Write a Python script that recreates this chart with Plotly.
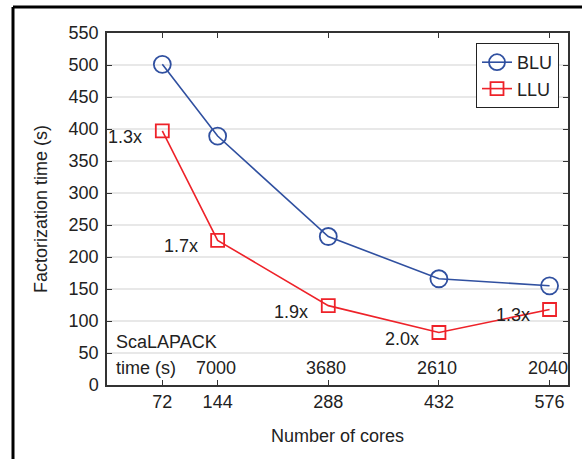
import plotly.graph_objects as go

cores = [72, 144, 288, 432, 576]
blu = [501, 389, 232, 166, 155]
llu = [397, 226, 124, 82, 118]
speedup = ["1.3x", "1.7x", "1.9x", "2.0x", "1.3x"]
scalapack = ["7000", "3680", "2610", "2040"]
yticks = list(range(0, 551, 50))

W, H = 582, 459
L, R, T, B = 107, 14, 33, 74
pw, ph = W - L - R, H - T - B

def px(x):
    return (x - L) / pw

def py(y):
    return (H - B - y) / ph

BLUE = "#3050a0"
RED = "#ee2229"
FONT = "Liberation Sans, Arial, Helvetica, sans-serif"
TXT = "#222222"
FS = 18

fig = go.Figure()
fig.add_trace(go.Scatter(x=cores, y=blu, name="BLU", mode="lines+markers",
                         line=dict(color=BLUE, width=1.6),
                         marker=dict(symbol="circle-open", size=17, color=BLUE, line=dict(width=1.8))))
fig.add_trace(go.Scatter(x=cores, y=llu, name="LLU", mode="lines+markers",
                         line=dict(color=RED, width=1.6),
                         marker=dict(symbol="square-open", size=13, color=RED, line=dict(width=1.8))))

# speedup labels, right-aligned to the left of each LLU marker
for c, v, s in zip(cores, llu, speedup):
    fig.add_annotation(x=c, y=v, text=s, showarrow=False, xshift=-18, yshift=-6,
                       xanchor="right", yanchor="middle",
                       font=dict(size=FS, color=TXT, family=FONT))

fig.add_annotation(xref="paper", yref="paper", x=px(114), y=py(342), text="ScaLAPACK",
                   xanchor="left", yanchor="middle", showarrow=False,
                   font=dict(size=FS, color=TXT, family=FONT))
fig.add_annotation(xref="paper", yref="paper", x=px(114), y=py(368), text="time (s)",
                   xanchor="left", yanchor="middle", showarrow=False,
                   font=dict(size=FS, color=TXT, family=FONT))
for c, s in zip(cores[1:], scalapack):
    fig.add_annotation(x=c, y=py(368), yref="paper", text=s, showarrow=False, xshift=-2,
                       xanchor="center", yanchor="middle",
                       font=dict(size=FS, color=TXT, family=FONT))

# outer frame (top and left lines)
fig.add_shape(type="line", xref="paper", yref="paper", x0=px(13), x1=px(W + 5), y0=py(7), y1=py(7),
              line=dict(color="black", width=3))
fig.add_shape(type="line", xref="paper", yref="paper", x0=px(13), x1=px(13), y0=py(7), y1=py(H + 5),
              line=dict(color="black", width=3))

fig.update_layout(
    width=W, height=H,
    margin=dict(l=L, r=R, t=T, b=B),
    paper_bgcolor="white", plot_bgcolor="white",
    font=dict(family=FONT, size=FS, color=TXT),
    showlegend=True,
    legend=dict(x=px(476), y=py(43), xanchor="left", yanchor="top",
                bordercolor="#222222", borderwidth=1, bgcolor="white",
                font=dict(size=FS, color=TXT), itemwidth=30, tracegroupgap=0),
)
fig.update_xaxes(range=[0, 600], tickvals=cores, ticktext=[str(c) for c in cores],
                 ticks="inside", ticklen=5, tickcolor="#333", showline=True, linecolor="#333",
                 linewidth=1.5, mirror="ticks", showgrid=False, zeroline=False,
                 title=dict(text="Number of cores", standoff=18, font=dict(size=FS)),
                 tickfont=dict(size=FS))
fig.update_yaxes(range=[0, 550], tickvals=yticks, ticks="inside", ticklen=5, tickcolor="#333",
                 showline=True, linecolor="#333", linewidth=1.5, mirror="ticks",
                 showgrid=True, gridcolor="#e8e8e8", gridwidth=1.5, zeroline=False,
                 ticklabelstandoff=3,
                 title=dict(text="Factorization time (s)", standoff=16, font=dict(size=FS)),
                 tickfont=dict(size=FS))

fig.write_html("out.html")
